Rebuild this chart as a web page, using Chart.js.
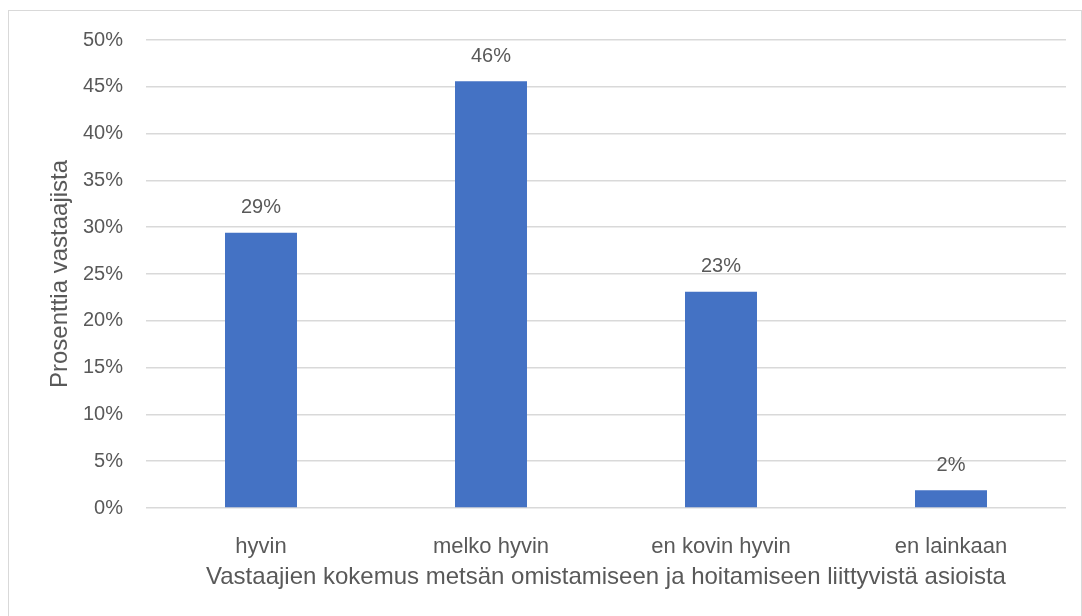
<!DOCTYPE html>
<html>
<head>
<meta charset="utf-8">
<script src="https://cdn.jsdelivr.net/npm/chart.js@4"></script>
<style>
  body { margin: 0; background: #fff; }
  #frame { position: absolute; left: 8px; top: 10px; width: 1074px; height: 620px; border: 1px solid #d9d9d9; box-sizing: border-box; }
  #wrap { position: absolute; left: 0; top: 0; width: 1082px; height: 616px; }
</style>
</head>
<body>
<div id="frame"></div>
<div id="wrap"><canvas id="myChart" width="1082" height="616"></canvas></div>
<script>
// data
const categories = ['hyvin', 'melko hyvin', 'en kovin hyvin', 'en lainkaan'];
const shares = [29.4, 45.6, 23.1, 1.9];
const shareLabels = ['29%', '46%', '23%', '2%'];

const textColor = '#595959';
const fontFamily = "'Liberation Sans', Arial, sans-serif";

// value labels above bars
const barLabels = {
    id: 'barLabels',
    afterDatasetsDraw(chart) {
        const { ctx } = chart;
        const meta = chart.getDatasetMeta(0);
        ctx.save();
        ctx.fillStyle = textColor;
        ctx.font = '20px ' + fontFamily;
        ctx.textAlign = 'center';
        ctx.textBaseline = 'middle';
        meta.data.forEach((bar, i) => {
            ctx.fillText(shareLabels[i], bar.x, bar.y - 25);
        });
        ctx.restore();
    }
};

const ctx = document.getElementById('myChart');
const chart = new Chart(ctx, {
    type: 'bar',
    data: {
        labels: categories,
        datasets: [{
            data: shares,
            backgroundColor: '#4472C4',
            categoryPercentage: 1,
            barPercentage: 0.313
        }]
    },
    options: {
        responsive: false,
        animation: false,
        layout: { padding: { top: 40, right: 16, left: 0, bottom: 0 } },
        plugins: { legend: { display: false }, tooltip: { enabled: false } },
        scales: {
            x: {
                grid: { display: false },
                border: { display: false },
                ticks: { color: textColor, font: { family: fontFamily, size: 22 }, padding: 18, maxRotation: 0 },
                title: {
                    display: true,
                    text: 'Vastaajien kokemus metsän omistamiseen ja hoitamiseen liittyvistä asioista',
                    color: textColor,
                    font: { family: fontFamily, size: 24 },
                    padding: { top: 0, bottom: 24 }
                },
                afterFit(scale) { scale.height = 108; }
            },
            y: {
                min: 0,
                max: 50,
                grid: { color: '#d9d9d9', lineWidth: 1.5, drawTicks: false },
                border: { display: false },
                ticks: {
                    stepSize: 5,
                    color: textColor,
                    font: { family: fontFamily, size: 20 },
                    padding: 23,
                    callback: v => v + '%'
                },
                title: {
                    display: true,
                    text: 'Prosenttia vastaajista',
                    color: textColor,
                    font: { family: fontFamily, size: 24 },
                    padding: { top: 46, bottom: 0 }
                },
                afterFit(scale) { scale.width = 146; }
            }
        }
    },
    plugins: [barLabels]
});
</script>
</body>
</html>
